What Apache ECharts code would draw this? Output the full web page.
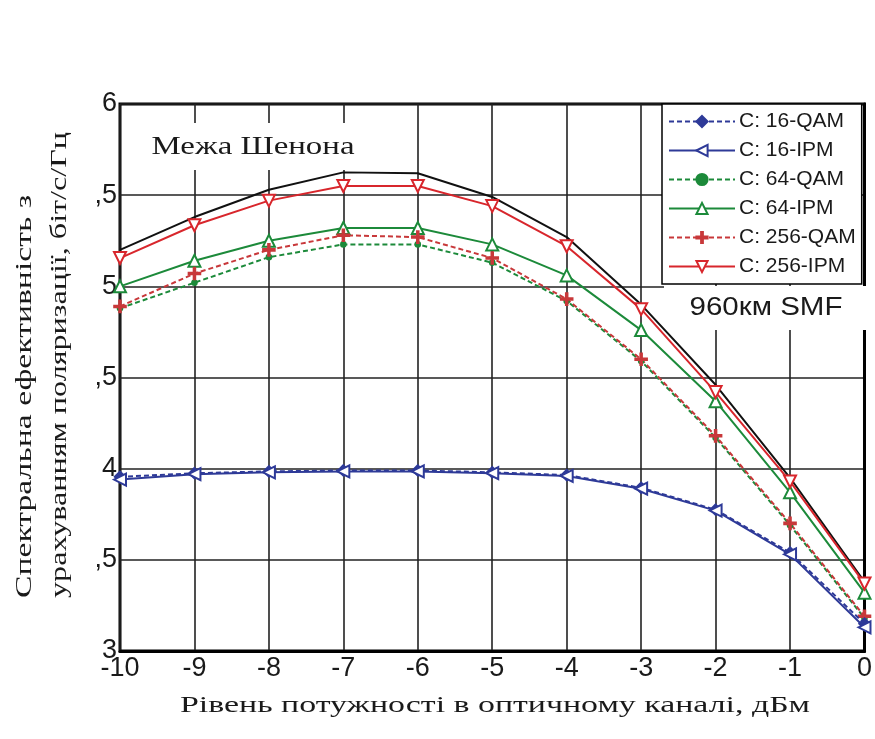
<!DOCTYPE html>
<html>
<head>
<meta charset="utf-8">
<script src="https://cdn.jsdelivr.net/npm/echarts@6/dist/echarts.min.js"></script>
<style>
html,body{margin:0;padding:0;background:#fff;}
#chart{width:875px;height:739px;}
</style>
</head>
<body>
<div id="chart"></div>
<script>
// ---- data ----
var xValues = [-10, -9, -8, -7, -6, -5, -4, -3, -2, -1, 0];
var shannon = [5.20, 5.38, 5.53, 5.625, 5.62, 5.49, 5.27, 4.90, 4.46, 3.95, 3.38];
var qam16  = [3.955, 3.975, 3.985, 3.99, 3.99, 3.98, 3.965, 3.895, 3.775, 3.54, 3.15];
var ipm16  = [3.94, 3.97, 3.98, 3.985, 3.985, 3.975, 3.96, 3.89, 3.77, 3.53, 3.13];
var qam64  = [4.88, 5.02, 5.16, 5.23, 5.23, 5.13, 4.92, 4.59, 4.17, 3.69, 3.18];
var ipm64  = [5.00, 5.14, 5.25, 5.32, 5.32, 5.23, 5.06, 4.76, 4.37, 3.87, 3.32];
var qam256 = [4.89, 5.07, 5.20, 5.28, 5.27, 5.155, 4.93, 4.60, 4.18, 3.70, 3.19];
var ipm256 = [5.155, 5.335, 5.47, 5.55, 5.55, 5.44, 5.22, 4.875, 4.42, 3.93, 3.37];
var seriesNames = ['C: 16-QAM', 'C: 16-IPM', 'C: 64-QAM', 'C: 64-IPM', 'C: 256-QAM', 'C: 256-IPM'];
var yTickValues = [3, 3.5, 4, 4.5, 5, 5.5, 6];
var yTickLabels = ['3', ',5', '4', ',5', '5', ',5', '6'];
var yTitle1 = 'Спектральна ефективність з';
var yTitle2 = 'урахуванням поляризації, біт/с/Гц';
var xTitle = 'Рівень потужності в оптичному каналі, дБм';
var shannonLabel = 'Межа Шенона';
var distLabel = '960км SMF';

function pairs(ys) { return xValues.map(function (x, i) { return [x, ys[i]]; }); }

var ctx = document.createElement('canvas').getContext('2d');
function fitScale(text, font, target) { ctx.font = font; return target / ctx.measureText(text).width; }

var serif = '"Liberation Serif", "DejaVu Serif", serif';
var sans = '"Liberation Sans", Arial, sans-serif';

var BLUE = '#2e3a98', GREEN = '#1c8a3a', RED = '#d8262c', RED2 = '#c8383a';
var crossPath = 'path://M4.2,0H5.8V10H4.2ZM0,4.2H10V5.8H0Z';

function mkSeries(name, data, color, dashed, symbol, size, rotate, z) {
  return {
    name: name, type: 'line', data: pairs(data), z: z || 3,
    symbol: symbol, symbolSize: size, symbolRotate: rotate || 0,
    lineStyle: { color: color, width: 2, type: dashed ? [5, 3] : 'solid' },
    itemStyle: { color: color, borderColor: color, borderWidth: 1.6 },
    emphasis: { disabled: true }, animation: false
  };
}

var chart = echarts.init(document.getElementById('chart'), null, { renderer: 'canvas' });

var s1 = fitScale(yTitle1, '24px ' + serif, 403);
var s2 = fitScale(yTitle2, '24px ' + serif, 466);
var sx = fitScale(xTitle, '24px ' + serif, 630);
var sh = fitScale(shannonLabel, '25px ' + serif, 203);
var sd = fitScale(distLabel, '26px ' + sans, 153);

var option = {
  backgroundColor: '#fff',
  animation: false,
  grid: { left: 120, right: 4, top: 104, bottom: 88, show: true, borderColor: '#000', borderWidth: 3, z: 0 },
  xAxis: {
    type: 'value', min: -10, max: 0, interval: 1,
    axisLine: { show: true, onZero: false, lineStyle: { color: '#000', width: 3 } },
    axisTick: { show: false },
    axisLabel: { color: '#1a1a1a', fontSize: 27, fontFamily: sans, margin: 4 },
    splitLine: { show: true, lineStyle: { color: '#222', width: 1.6 } }
  },
  yAxis: {
    type: 'value', min: 3, max: 6, interval: 0.5,
    axisLine: { show: true, lineStyle: { color: '#000', width: 3 } },
    axisTick: { show: false },
    axisLabel: {
      color: '#1a1a1a', fontSize: 27, fontFamily: sans, margin: 3,
      formatter: function (v) {
        for (var i = 0; i < yTickValues.length; i++) if (Math.abs(yTickValues[i] - v) < 1e-6) return yTickLabels[i];
        return '';
      }
    },
    splitLine: { show: true, lineStyle: { color: '#222', width: 1.6 } }
  },
  legend: {
    orient: 'vertical', left: 662, top: 104,
    data: seriesNames,
    backgroundColor: '#fff', borderColor: '#000', borderWidth: 1.5,
    padding: [7, 6, 7, 6],
    itemWidth: 66, itemHeight: 14, itemGap: 8,
    textStyle: { color: '#1a1a1a', fontSize: 21, fontFamily: sans, lineHeight: 21, padding: [0, 0, 0, -1] },
    selectedMode: false
  },
  graphic: [
    { type: 'rect', z: 1, shape: { x: 145, y: 123, width: 215, height: 47 }, style: { fill: '#fff' } },
    { type: 'rect', z: 1, shape: { x: 664, y: 286, width: 205, height: 44 }, style: { fill: '#fff' } },
    { type: 'text', z: 5, x: 253, y: 147, scaleX: sh, style: { text: shannonLabel, font: '25px ' + serif, fill: '#1a1a1a', textAlign: 'center', textVerticalAlign: 'middle' } },
    { type: 'text', z: 5, x: 766, y: 308, scaleX: sd, style: { text: distLabel, font: '26px ' + sans, fill: '#1a1a1a', textAlign: 'center', textVerticalAlign: 'middle' } },
    { type: 'text', z: 5, x: 495, y: 706, scaleX: sx, style: { text: xTitle, font: '24px ' + serif, fill: '#1a1a1a', textAlign: 'center', textVerticalAlign: 'middle' } },
    { type: 'text', z: 5, x: 25, y: 598, rotation: Math.PI / 2, scaleX: s1, style: { text: yTitle1, font: '24px ' + serif, fill: '#1a1a1a', textAlign: 'left', textVerticalAlign: 'middle' } },
    { type: 'text', z: 5, x: 60, y: 598, rotation: Math.PI / 2, scaleX: s2, style: { text: yTitle2, font: '24px ' + serif, fill: '#1a1a1a', textAlign: 'left', textVerticalAlign: 'middle' } }
  ],
  series: [
    { name: 'Shannon', type: 'line', data: pairs(shannon), symbol: 'none', z: 3,
      lineStyle: { color: '#111', width: 2 }, emphasis: { disabled: true }, animation: false },
    mkSeries(seriesNames[0], qam16, BLUE, true, 'diamond', 11, 0, 4),
    mkSeries(seriesNames[1], ipm16, BLUE, false, 'emptyTriangle', 12, 90, 4),
    mkSeries(seriesNames[2], qam64, GREEN, true, 'circle', 5, 0, 3),
    mkSeries(seriesNames[3], ipm64, GREEN, false, 'emptyTriangle', 12, 0, 3),
    mkSeries(seriesNames[4], qam256, RED2, true, crossPath, 12, 0, 3),
    mkSeries(seriesNames[5], ipm256, RED, false, 'emptyTriangle', 12, 180, 3)
  ]
};
chart.setOption(option);
</script>
</body>
</html>
